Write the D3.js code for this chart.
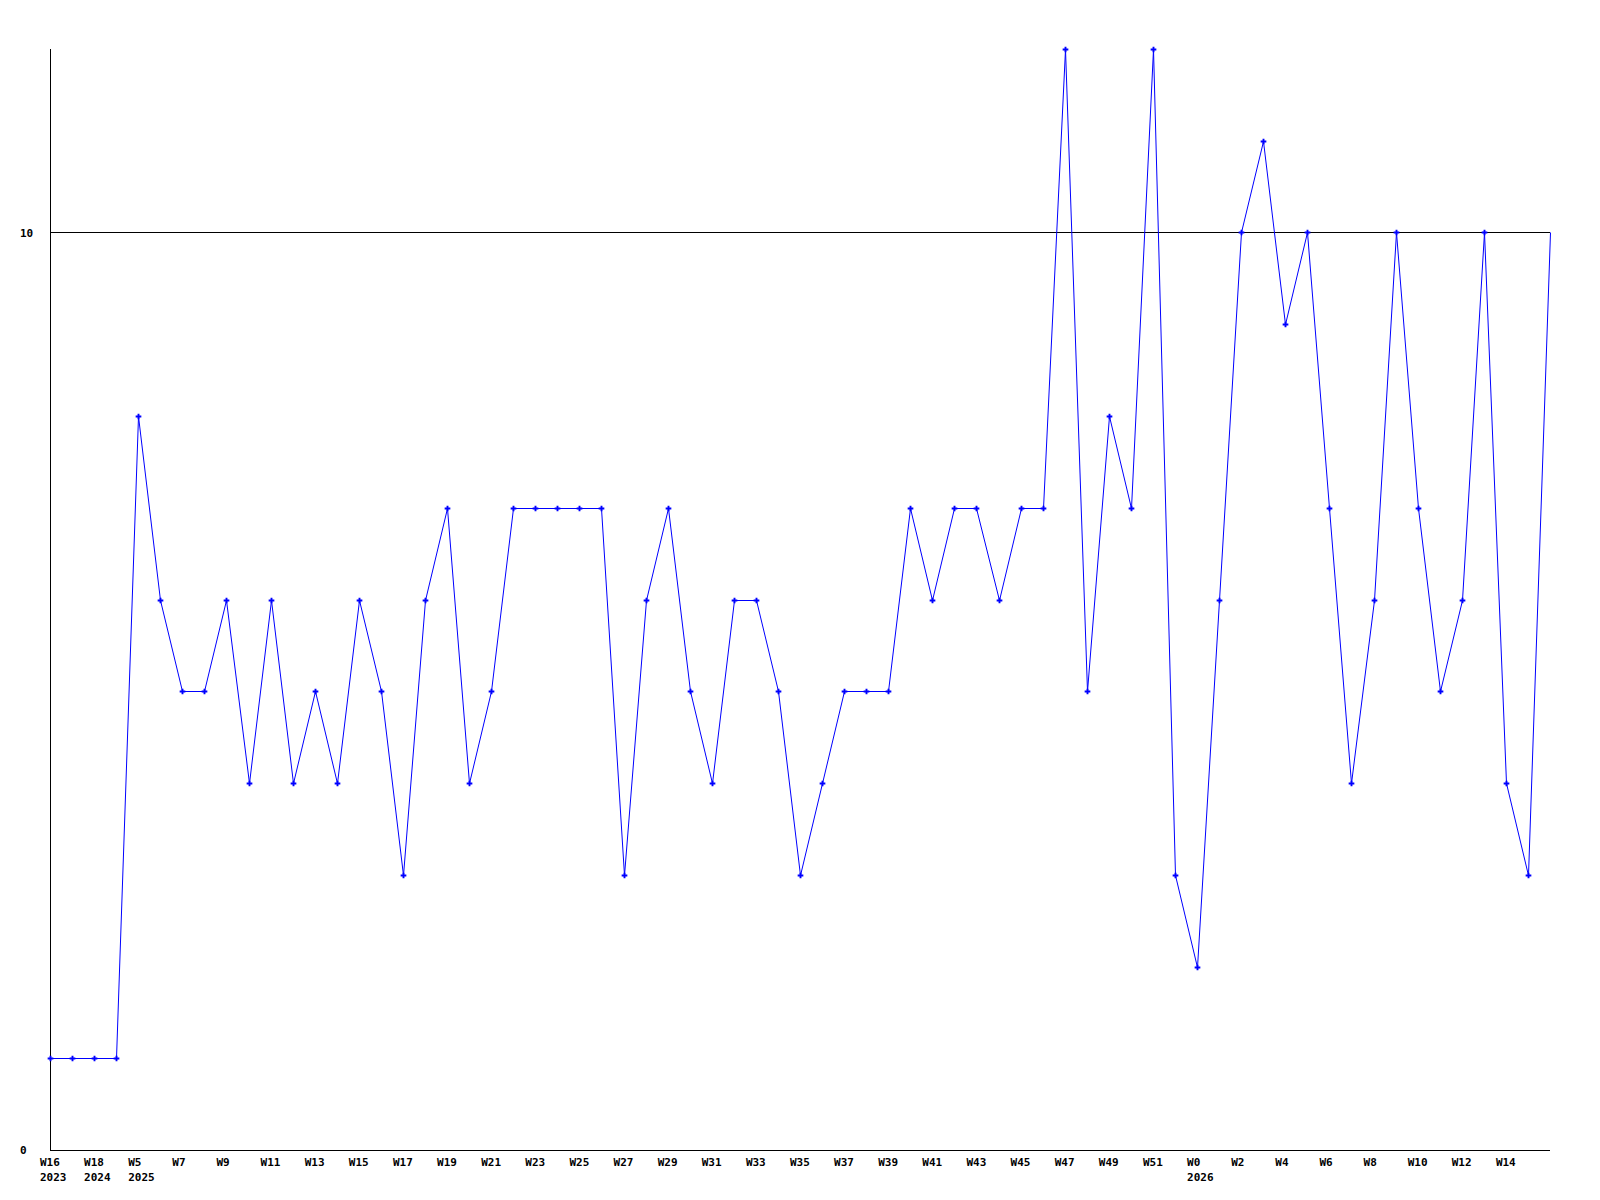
<!DOCTYPE html>
<html>
<head>
<meta charset="utf-8">
<script src="https://cdn.jsdelivr.net/npm/d3@7"></script>
<style>
  body { margin: 0; background: #fff; }
  text { font-family: "DejaVu Sans Mono", monospace; font-weight: bold; font-size: 11px; }
</style>
</head>
<body>
<div id="chart"></div>
<script>
// one value per week, oldest first
var values = [1, 1, 1, 1, 8, 6, 5, 5, 6, 4, 6, 4, 5, 4, 6, 5, 3, 6, 7, 4,
              5, 7, 7, 7, 7, 7, 3, 6, 7, 5, 4, 6, 6, 5, 3, 4, 5, 5, 5, 7,
              6, 7, 7, 6, 7, 7, 12, 5, 8, 7, 12, 3, 2, 6, 10, 11, 9, 10, 7, 4,
              6, 10, 7, 5, 6, 10, 4, 3, 10];
// labels on every second point
var tickLabels = ["W16", "W18", "W5", "W7", "W9", "W11", "W13", "W15", "W17", "W19",
                  "W21", "W23", "W25", "W27", "W29", "W31", "W33", "W35", "W37", "W39",
                  "W41", "W43", "W45", "W47", "W49", "W51", "W0", "W2", "W4", "W6",
                  "W8", "W10", "W12", "W14"];
var yearLabels = ["2023", "2024", "2025", "", "", "", "", "", "", "",
                  "", "", "", "", "", "", "", "", "", "",
                  "", "", "", "", "", "", "2026", "", "", "",
                  "", "", "", ""];
var yTicks = [0, 10];

var width = 1600;
var height = 1200;

var svg = d3.select("#chart")
    .append("svg")
    .attr("width", width)
    .attr("height", height);

var x = d3.scaleLinear()
    .domain([0, values.length - 1])
    .range([50, 1550]);

var y = d3.scaleLinear()
    .domain([0, 12])
    .range([1150, 49]);

// horizontal grid line at 10
svg.selectAll("line.grid")
    .data(yTicks.filter(function(d){ return d > 0; }))
    .enter().append("line")
    .attr("class", "grid")
    .attr("x1", x(0)).attr("x2", x(values.length - 1))
    .attr("y1", function(d){ return Math.round(y(d)) + 0.5; })
    .attr("y2", function(d){ return Math.round(y(d)) + 0.5; })
    .style("stroke", "#000")
    .style("stroke-width", 1);

// axes
svg.append("line")
    .attr("x1", 50.5).attr("x2", 50.5)
    .attr("y1", y(12)).attr("y2", 1150)
    .style("stroke", "#000");
svg.append("line")
    .attr("x1", 50).attr("x2", x(values.length - 1))
    .attr("y1", 1150.5).attr("y2", 1150.5)
    .style("stroke", "#000");

svg.selectAll("text.ylab")
    .data(yTicks)
    .enter().append("text")
    .attr("class", "ylab")
    .attr("x", 20)
    .attr("y", function(d){ return y(d) + 4; })
    .text(function(d){ return d; });

svg.selectAll("text.xlab")
    .data(tickLabels)
    .enter().append("text")
    .attr("class", "xlab")
    .attr("x", function(d, i){ return x(i * 2) - 10; })
    .attr("y", 1166)
    .text(function(d){ return d; });

svg.selectAll("text.year")
    .data(yearLabels)
    .enter().append("text")
    .attr("class", "year")
    .attr("x", function(d, i){ return x(i * 2) - 10; })
    .attr("y", 1181)
    .text(function(d){ return d; });

// series line
var line = d3.line()
    .x(function(d, i){ return Math.round(x(i)) + 0.5; })
    .y(function(d){ return Math.round(y(d)) + 0.5; });

svg.append("path")
    .datum(values)
    .attr("d", line)
    .style("fill", "none")
    .style("stroke", "#0000ff")
    .style("stroke-width", 1);

// markers on every point except the last
svg.selectAll("path.mark")
    .data(values.slice(0, values.length - 1))
    .enter().append("path")
    .attr("class", "mark")
    .attr("d", d3.symbol(d3.symbolCross, 18))
    .attr("transform", function(d, i){
        return "translate(" + (Math.round(x(i)) + 0.5) + "," + (Math.round(y(d)) + 0.5) + ")";
    })
    .style("fill", "#0000ff");
</script>
</body>
</html>
